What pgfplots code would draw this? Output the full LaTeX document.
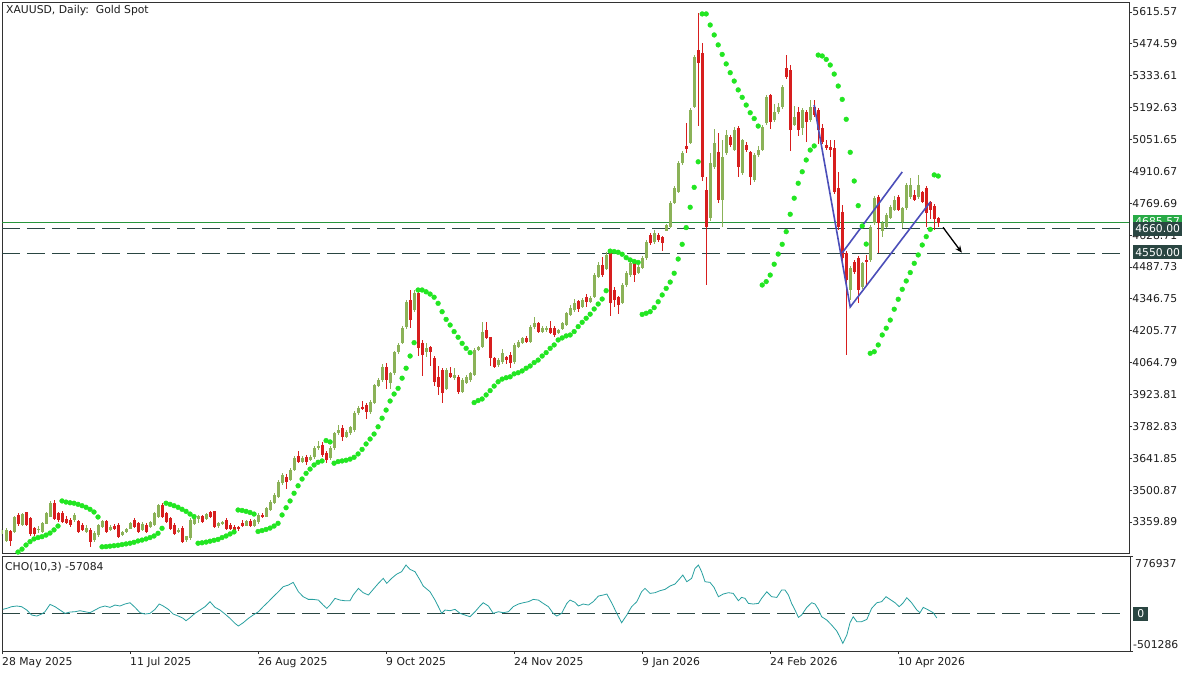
\documentclass[border=0pt]{standalone}
\usepackage{fontspec}
\setmainfont{DejaVu Sans}
\usepackage{pgfplots}
\usepackage{pgfplotstable}
\pgfplotsset{compat=1.18}
\usetikzlibrary{arrows.meta}
\definecolor{upc}{RGB}{139,178,88}
\definecolor{dnc}{RGB}{215,30,30}
\definecolor{sarc}{RGB}{34,230,34}
\definecolor{choc}{RGB}{40,160,160}
\definecolor{boxc}{RGB}{42,70,66}
\definecolor{greenline}{RGB}{40,150,60}
\definecolor{greenbox}{RGB}{40,170,70}
\definecolor{blu}{RGB}{75,78,185}
\definecolor{framec}{RGB}{50,50,50}
\definecolor{txtc}{RGB}{30,30,30}
\newcommand{\tf}{\fontsize{10.8}{13}\selectfont}

\pgfplotstableread{
i o h l c
0 3310 3330 3300 3322
1 3278 3335 3270 3325
3 3317 3385 3310 3379
5 3347 3400 3340 3395
9 3325 3340 3310 3330
10 3317 3362 3310 3354
11 3354 3405 3350 3398
12 3384 3451 3380 3443
18 3369 3398 3362 3391
21 3317 3345 3310 3332
23 3280 3318 3270 3310
24 3303 3352 3295 3347
25 3339 3370 3335 3362
27 3325 3345 3318 3336
30 3305 3320 3300 3316
31 3317 3335 3312 3330
32 3332 3360 3328 3354
35 3325 3360 3318 3351
37 3339 3365 3332 3357
38 3347 3405 3340 3398
39 3384 3440 3376 3435
44 3317 3332 3310 3325
46 3280 3300 3273 3295
47 3288 3376 3280 3369
48 3354 3380 3348 3378
49 3376 3390 3355 3384
51 3376 3400 3370 3395
54 3342 3360 3335 3354
55 3351 3365 3345 3357
61 3345 3370 3340 3362
63 3345 3372 3340 3366
64 3360 3398 3352 3390
66 3385 3428 3380 3420
67 3413 3455 3408 3448
68 3444 3486 3440 3480
69 3470 3545 3465 3537
70 3532 3575 3525 3568
72 3546 3598 3540 3590
73 3590 3650 3585 3643
75 3628 3650 3620 3643
77 3634 3655 3628 3648
78 3648 3695 3640 3688
79 3688 3720 3680 3696
82 3643 3695 3635 3688
83 3688 3760 3680 3754
84 3754 3790 3745 3767
86 3736 3765 3730 3758
87 3754 3785 3745 3780
88 3767 3850 3760 3842
89 3842 3872 3835 3864
92 3846 3898 3838 3890
93 3886 3972 3880 3966
94 3962 3995 3955 3988
95 3988 4060 3980 4045
97 3975 4025 3950 4019
98 4019 4118 4012 4112
99 4112 4150 4105 4142
100 4152 4225 4145 4218
101 4222 4340 4215 4333
103 4297 4385 4290 4372
106 4112 4150 4090 4130
111 3950 4040 3945 4032
113 3998 4040 3990 4010
115 3935 3995 3930 3988
116 3975 4010 3970 4001
117 3988 4025 3980 4019
118 4010 4128 4005 4121
119 4121 4140 4115 4134
120 4134 4245 4128 4200
124 4054 4085 4045 4076
125 4067 4125 4060 4108
128 4067 4150 4060 4142
129 4134 4165 4128 4156
130 4152 4180 4145 4174
132 4156 4230 4150 4222
133 4222 4265 4215 4240
135 4200 4225 4195 4218
136 4209 4225 4200 4218
139 4196 4215 4190 4209
140 4216 4245 4210 4238
141 4231 4290 4225 4283
142 4275 4320 4270 4305
143 4297 4345 4290 4327
145 4312 4350 4305 4342
147 4335 4358 4328 4350
148 4356 4460 4350 4452
149 4445 4510 4440 4497
151 4482 4555 4475 4540
155 4330 4415 4325 4408
156 4408 4468 4400 4460
157 4452 4512 4445 4505
159 4460 4495 4455 4487
160 4485 4535 4478 4528
161 4528 4605 4520 4598
163 4598 4650 4590 4638
166 4650 4680 4645 4673
167 4665 4778 4660 4771
168 4771 4845 4765 4837
169 4820 4955 4815 4948
170 4948 5000 4940 4992
172 5036 5190 5030 5182
173 5195 5425 5190 5417
177 4704 4990 4690 4948
178 4930 5100 4920 5036
180 4784 5050 4665 4974
181 4992 5095 4985 5072
183 5005 5105 5000 5094
185 4903 5055 4895 5049
188 4872 4990 4865 4983
189 4983 5025 4975 5005
190 5005 5115 5000 5107
191 5125 5250 5118 5240
193 5138 5210 5130 5173
194 5173 5215 5165 5195
195 5195 5292 5188 5284
198 5116 5200 5110 5151
200 5103 5190 5070 5182
202 5138 5225 5130 5195
212 4386 4490 4340 4483
215 4400 4512 4390 4505
217 4518 4672 4510 4665
218 4682 4800 4675 4793
220 4650 4690 4620 4682
221 4665 4725 4660 4718
222 4705 4760 4700 4753
223 4740 4800 4735 4784
225 4686 4755 4660 4749
226 4749 4858 4742 4850
227 4797 4880 4790 4850
229 4797 4895 4790 4850
}\upt

\pgfplotstableread{
i o h l c
2 3317 3325 3255 3278
4 3390 3400 3340 3350
6 3401 3405 3340 3347
7 3376 3384 3300 3310
8 3332 3340 3300 3310
13 3445 3455 3370 3376
14 3398 3405 3360 3369
15 3398 3410 3355 3362
16 3372 3385 3350 3357
17 3369 3376 3340 3347
19 3362 3370 3310 3317
20 3347 3355 3318 3325
22 3325 3332 3250 3273
26 3362 3370 3310 3317
28 3342 3350 3325 3332
29 3347 3355 3290 3295
33 3369 3378 3332 3339
34 3354 3362 3310 3317
36 3347 3355 3310 3317
40 3435 3445 3376 3384
41 3398 3405 3355 3362
42 3376 3384 3325 3332
43 3347 3355 3303 3310
45 3332 3340 3266 3273
50 3384 3392 3355 3362
52 3401 3410 3376 3384
53 3406 3410 3335 3339
56 3369 3376 3325 3332
57 3347 3354 3325 3332
58 3339 3345 3318 3325
59 3335 3342 3318 3328
60 3355 3368 3338 3345
62 3365 3375 3338 3345
65 3390 3400 3378 3385
71 3559 3570 3505 3537
74 3650 3672 3620 3628
76 3648 3655 3610 3628
80 3700 3715 3648 3656
81 3665 3672 3620 3634
85 3776 3790 3720 3736
90 3866 3895 3855 3860
91 3877 3885 3815 3846
96 4045 4065 3950 3988
102 4342 4385 4218 4253
104 4372 4385 4095 4130
105 4150 4165 4005 4098
107 4134 4140 4050 4112
108 4085 4095 3962 3980
109 4000 4050 3920 3957
110 4032 4040 3888 3930
112 4020 4045 3995 4000
114 4001 4010 3925 3935
121 4209 4245 4170 4175
122 4175 4180 4050 4085
123 4085 4090 4040 4045
126 4090 4095 4060 4076
127 4098 4110 4040 4063
131 4174 4182 4150 4156
134 4240 4245 4195 4200
137 4218 4250 4190 4196
138 4218 4225 4180 4187
144 4335 4340 4290 4305
146 4356 4370 4310 4335
150 4497 4530 4445 4452
152 4550 4555 4270 4330
153 4386 4400 4310 4342
154 4355 4360 4280 4320
158 4505 4510 4420 4452
162 4630 4640 4585 4594
164 4630 4640 4600 4607
165 4620 4625 4560 4594
171 5023 5125 4990 5010
174 5447 5610 5110 5390
175 5434 5480 4870 4886
176 4828 4885 4408 4665
179 4996 5080 4770 4784
182 5063 5070 5020 5027
184 5103 5110 4885 4930
186 5027 5040 4995 5005
187 4996 5000 4850 4886
192 5249 5255 5100 5129
196 5368 5425 5320 5328
197 5359 5380 5000 5094
199 5173 5195 5065 5094
201 5173 5180 5040 5129
203 5195 5225 5150 5160
204 5182 5190 5030 5094
205 5100 5120 5030 5040
206 5027 5050 5005 5014
207 5018 5050 4975 5005
208 5014 5050 4810 4819
209 4837 4910 4650 4665
210 4730 4760 4500 4527
211 4550 4560 4098 4430
213 4510 4520 4455 4465
214 4527 4535 4330 4386
216 4518 4540 4410 4510
219 4797 4805 4550 4682
224 4797 4805 4735 4740
228 4806 4830 4778 4784
230 4820 4825 4770 4775
231 4837 4845 4665 4726
232 4775 4780 4700 4743
233 4756 4765 4650 4699
234 4705 4710 4665 4685
}\dnt

\pgfplotstableread{
i s
4 3227
5 3240
6 3258
7 3273
8 3285
9 3291
10 3295
11 3302
12 3311
13 3325
14 3342
15 3453
16 3448
17 3445
18 3443
19 3438
20 3432
21 3425
22 3416
23 3404
24 3382
25 3250
26 3251
27 3253
28 3255
29 3257
30 3260
31 3263
32 3266
33 3270
34 3276
35 3280
36 3285
37 3291
38 3298
39 3310
40 3332
41 3443
42 3438
43 3432
44 3425
45 3416
46 3407
47 3395
48 3384
49 3266
50 3268
51 3271
52 3275
53 3279
54 3283
55 3291
56 3298
57 3307
58 3316
59 3413
60 3411
61 3407
62 3402
63 3395
64 3318
65 3322
66 3327
67 3333
68 3342
69 3354
70 3391
71 3423
72 3453
73 3487
74 3520
75 3550
76 3575
77 3594
78 3612
79 3624
80 3630
81 3720
82 3714
83 3620
84 3627
85 3630
86 3633
87 3638
88 3646
89 3661
90 3681
91 3705
92 3727
93 3749
94 3781
95 3819
96 3855
97 3895
98 3926
99 3951
100 3996
101 4040
102 4094
103 4153
104 4386
105 4386
106 4378
107 4368
108 4354
109 4327
110 4290
111 4256
112 4231
113 4202
114 4177
115 4150
116 4128
117 4109
118 3888
119 3897
120 3904
121 3922
122 3941
123 3961
124 3980
125 3992
126 3998
127 4002
128 4015
129 4020
130 4028
131 4040
132 4050
133 4065
134 4076
135 4094
136 4109
137 4128
138 4143
139 4165
140 4174
141 4183
142 4187
143 4202
144 4224
145 4243
146 4261
147 4279
148 4302
149 4324
150 4346
151 4383
152 4558
153 4556
154 4553
155 4544
156 4529
157 4519
158 4512
159 4508
160 4278
161 4283
162 4290
163 4308
164 4334
165 4364
166 4393
167 4421
168 4460
169 4523
170 4588
171 4662
172 4752
173 4840
174 4953
175 5607
176 5607
177 5558
178 5514
179 5470
180 5428
181 5386
182 5347
183 5310
184 5271
185 5238
186 5204
187 5170
188 5144
189 5111
190 4408
191 4423
192 4452
193 4500
194 4545
195 4588
196 4644
197 4721
198 4792
199 4858
200 4909
201 4961
202 5005
203 5023
204 5425
205 5421
206 5406
207 5381
208 5341
209 5288
210 5229
211 5141
212 4995
213 4868
214 4759
215 4669
216 4589
217 4106
218 4113
219 4143
220 4187
221 4217
222 4253
223 4301
224 4345
225 4389
226 4426
227 4463
228 4504
229 4541
230 4585
231 4622
232 4654
233 4895
234 4890
}\sart

\pgfplotstableread{
i v
0.2 59000
1.2 72000
2.4 95000
3.7 104000
4.9 95000
6.2 50000
7.4 -17000
8.7 -31000
9.9 -4000
10.75 27000
12 126000
13.25 95000
14.5 50000
15.75 5000
17 23000
18.25 27000
19.5 41000
20.75 27000
22 14000
23.25 50000
24.5 86000
25.75 104000
27 86000
28.25 117000
29.5 104000
30.75 131000
32 148000
33.25 86000
34.5 14000
35.75 -4000
37 5000
38.25 59000
39.3 131000
40.3 104000
41.6 59000
42.8 -4000
44.1 -31000
45.3 -62000
46 -94000
47 -53000
48.25 5000
49.5 50000
50.75 95000
52 162000
53.25 86000
54.5 50000
55.75 -4000
57 -62000
58.25 -130000
59.1 -165000
60.3 -121000
61.6 -62000
62.8 -17000
64.1 27000
65.3 95000
66.6 162000
67.8 229000
69.1 296000
70.3 364000
71.6 386000
72.8 422000
74.1 296000
75.3 229000
76.6 193000
77.8 193000
79.1 184000
80.3 117000
81.2 72000
82 117000
83.25 207000
84.5 184000
85.75 175000
87 175000
87.8 252000
89.1 341000
90.3 283000
91.6 252000
92.8 328000
94.1 409000
95.3 476000
96.2 409000
97.4 476000
98.7 534000
99.9 566000
101 655000
102 597000
103.25 566000
104.5 453000
105.3 373000
107 296000
108.25 184000
109.1 95000
109.9 5000
110.75 50000
112 41000
113.25 59000
114.5 5000
115.75 -17000
117 -40000
118.25 27000
119.5 104000
120.3 148000
121.6 104000
122.8 5000
124.1 27000
125.3 14000
126.6 27000
127.8 95000
129.1 131000
130.3 148000
131.6 162000
132.8 193000
134.1 184000
135.3 139000
136.6 95000
137.8 5000
138.7 -31000
139.9 5000
141.2 139000
142 184000
143.25 153000
144.1 104000
145.3 131000
146.6 117000
147.8 162000
149.1 238000
150.3 252000
151.2 265000
152.4 148000
153.7 5000
154.9 -121000
156.2 -17000
157.4 95000
158.7 162000
159.9 296000
160.75 341000
162 274000
163.25 283000
164.5 310000
165.75 328000
167 373000
168.25 400000
169.5 476000
170.2 521000
171.2 431000
172.4 476000
173.25 610000
174.1 655000
174.9 566000
175.75 431000
177 422000
178 355000
179.1 229000
180.3 265000
181.6 283000
182.8 274000
184.1 175000
184.9 220000
185.75 207000
186.6 139000
187.8 131000
189.1 139000
189.9 207000
191.2 296000
192.4 229000
193.7 220000
194.9 319000
195.75 319000
196.6 252000
197.4 139000
198.25 50000
199.1 -49000
199.9 -17000
201.2 86000
202.4 148000
203.25 131000
204.1 59000
204.9 -40000
206.2 -85000
207.4 -152000
208.7 -233000
209.5 -318000
210.2 -399000
211.2 -287000
212 -121000
212.8 -40000
213.7 -107000
214.9 -107000
216.2 -76000
217.4 72000
218.7 148000
219.9 162000
221 229000
222 193000
223.25 148000
224.3 95000
225.3 148000
226.2 216000
227.4 148000
228.7 50000
229.5 14000
230.3 86000
231.6 50000
232.8 14000
233.7 -57084
}\chot

\begin{document}
\begin{tikzpicture}
\useasboundingbox[fill=white] (0pt,0pt) rectangle (1200pt,675pt);
\begin{axis}[
  at={(2pt,122pt)}, anchor=south west, scale only axis,
  width=1127pt, height=551pt,
  xmin=0, xmax=281.75, ymin=3222.8, ymax=5659.75,
  axis line style={draw=framec, line width=0.8pt},
  xtick=\empty,
  ytick={3359.89,3500.87,3641.85,3782.83,3923.81,4064.79,4205.77,4346.75,4487.73,4628.71,4769.69,4910.67,5051.65,5192.63,5333.61,5474.59,5615.57},
  yticklabels={3359.89,3500.87,3641.85,3782.83,3923.81,4064.79,4205.77,4346.75,4487.73,4628.71,4769.69,4910.67,5051.65,5192.63,5333.61,5474.59,5615.57},
  ytick pos=right, yticklabel pos=right,
  tick align=outside, major tick length=3pt,
  tick style={draw=framec, line width=0.8pt},
  yticklabel style={font=\tf, text=txtc, anchor=west, inner sep=0pt},
]
% horizontal levels
\draw[greenline, line width=0.9pt] (axis cs:0,4685) -- (axis cs:281.75,4685);
\draw[boxc, line width=0.8pt, dash pattern=on 18pt off 7pt] (axis cs:0,4660) -- (axis cs:281,4660);
\draw[boxc, line width=0.8pt, dash pattern=on 18pt off 7pt] (axis cs:0,4550) -- (axis cs:281,4550);
% wicks
\addplot[draw=none, mark=none, error bars/.cd, y dir=both, y explicit, error mark=none,
  error bar style={draw=upc, line width=1pt}]
  table[x=i, y expr={(\thisrow{h}+\thisrow{l})/2}, y error expr={(\thisrow{h}-\thisrow{l})/2}] {\upt};
\addplot[draw=none, mark=none, error bars/.cd, y dir=both, y explicit, error mark=none,
  error bar style={draw=dnc, line width=1pt}]
  table[x=i, y expr={(\thisrow{h}+\thisrow{l})/2}, y error expr={(\thisrow{h}-\thisrow{l})/2}] {\dnt};
% bodies
\addplot[draw=none, mark=none, error bars/.cd, y dir=both, y explicit, error mark=none,
  error bar style={draw=upc, line width=3pt}]
  table[x=i, y expr={(\thisrow{o}+\thisrow{c})/2}, y error expr={abs(\thisrow{c}-\thisrow{o})/2+1}] {\upt};
\addplot[draw=none, mark=none, error bars/.cd, y dir=both, y explicit, error mark=none,
  error bar style={draw=dnc, line width=3pt}]
  table[x=i, y expr={(\thisrow{o}+\thisrow{c})/2}, y error expr={abs(\thisrow{c}-\thisrow{o})/2+1}] {\dnt};
% parabolic SAR
\addplot[only marks, mark=*, mark size=2.4pt, mark options={draw=sarc, fill=sarc}] table[x=i, y=s] {\sart};
% drawn objects
\draw[blu, line width=1.6pt] (axis cs:203,5204) -- (axis cs:212,4311) -- (axis cs:232,4775);
\draw[blu, line width=1.6pt] (axis cs:210,4550) -- (axis cs:225,4908);
\draw[black, line width=1.3pt, -{Stealth[length=7pt,width=6pt]}] (axis cs:235.2,4663) -- (axis cs:239.9,4551);
\end{axis}
% price boxes
\node[fill=greenbox, text=white, font=\tf, anchor=west, minimum height=14pt, minimum width=49pt, inner sep=1pt] at (1133pt,453pt) {4685.57};
\node[fill=boxc, text=white, font=\tf, anchor=west, minimum height=14pt, minimum width=49pt, inner sep=1pt] at (1133pt,446.3pt) {4660.00};
\node[fill=boxc, text=white, font=\tf, anchor=west, minimum height=14pt, minimum width=49pt, inner sep=1pt] at (1133pt,422.7pt) {4550.00};
\node[font=\tf, text=txtc, anchor=west, inner sep=0pt] at (6pt,664pt) {XAUUSD, Daily:\ \ Gold Spot};

\begin{axis}[
  at={(2pt,24pt)}, anchor=south west, scale only axis,
  width=1128pt, height=95pt,
  xmin=0, xmax=282, ymin=-501286, ymax=776937,
  axis line style={draw=framec, line width=0.8pt},
  xtick={0,32,64,96,128,160,192,224},
  xticklabels={28 May 2025,11 Jul 2025,26 Aug 2025,9 Oct 2025,24 Nov 2025,9 Jan 2026,24 Feb 2026,10 Apr 2026},
  xtick pos=bottom, xticklabel pos=bottom,
  ytick={-501286,776937}, yticklabels={\mbox{},\mbox{}}, ytick pos=right,
  scaled y ticks=false,
  tick align=outside, major tick length=3pt,
  tick style={draw=framec, line width=0.8pt},
  xticklabel style={font=\tf, text=txtc, anchor=north west, inner sep=0pt, yshift=-3pt},
]
\draw[boxc, line width=0.8pt, dash pattern=on 18pt off 7pt] (axis cs:0,0) -- (axis cs:281,0);
\addplot[choc, line width=0.8pt] table[x=i, y=v] {\chot};
\end{axis}
\node[font=\tf, text=txtc, anchor=west, inner sep=0pt] at (5pt,108pt) {CHO(10,3) -57084};
\node[font=\tf, text=txtc, anchor=west, inner sep=0pt] at (1135pt,111.7pt) {776937};
\node[font=\tf, text=txtc, anchor=west, inner sep=0pt] at (1133pt,30pt) {-501286};
\node[fill=boxc, text=white, font=\tf, anchor=west, minimum height=14pt, minimum width=15pt, inner sep=1pt] at (1133pt,61.3pt) {0};
\end{tikzpicture}
\end{document}
